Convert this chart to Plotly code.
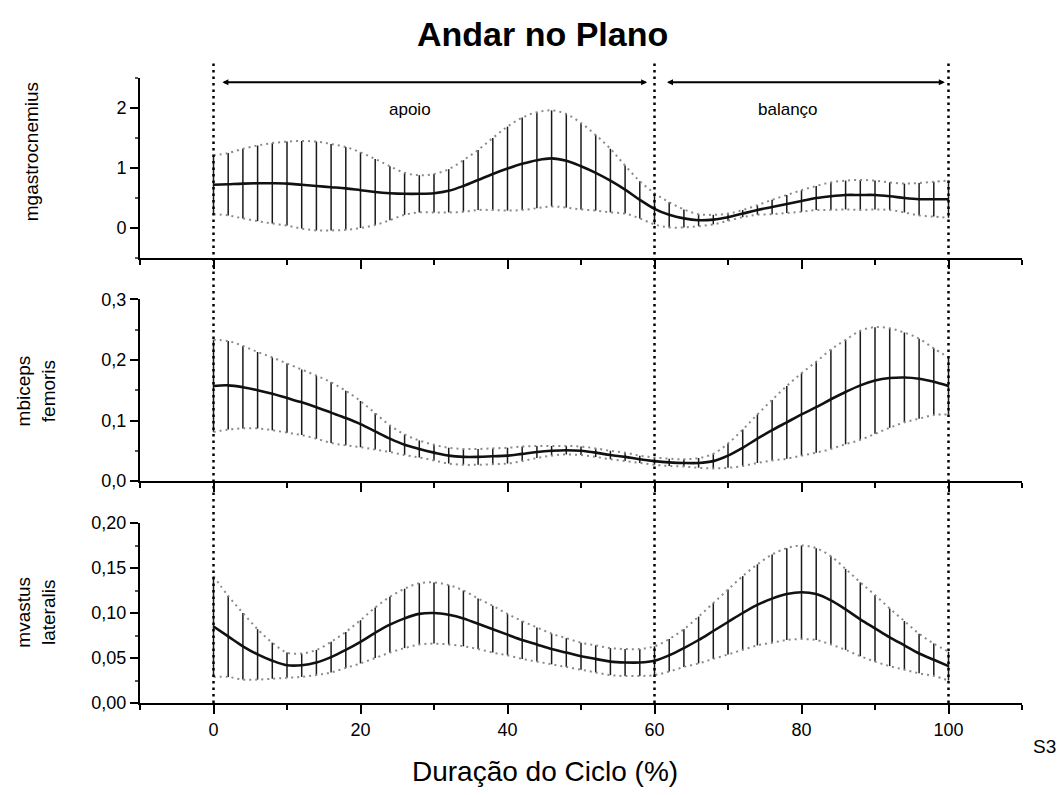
import plotly.graph_objects as go

# Gait cycle (%) sampled every 2 %
cycle = list(range(0, 101, 2))

# mgastrocnemius: mean and standard deviation
gastro_mean = [0.72, 0.73, 0.74, 0.745, 0.745, 0.74, 0.72, 0.70, 0.68, 0.66,
               0.63, 0.60, 0.58, 0.57, 0.57, 0.58, 0.62, 0.70, 0.80, 0.90,
               0.99, 1.07, 1.13, 1.16, 1.12, 1.03, 0.92, 0.79, 0.64, 0.47,
               0.32, 0.22, 0.16, 0.13, 0.14, 0.18, 0.24, 0.30, 0.35, 0.40,
               0.45, 0.50, 0.53, 0.55, 0.55, 0.55, 0.53, 0.50, 0.48, 0.48,
               0.48]
gastro_sd = [0.49, 0.52, 0.58, 0.63, 0.67, 0.70, 0.73, 0.74, 0.72, 0.69,
             0.63, 0.55, 0.45, 0.35, 0.31, 0.32, 0.36, 0.43, 0.50, 0.60,
             0.70, 0.77, 0.80, 0.80, 0.78, 0.72, 0.63, 0.53, 0.40, 0.31,
             0.26, 0.21, 0.15, 0.10, 0.08, 0.06, 0.06, 0.08, 0.12, 0.15,
             0.18, 0.20, 0.23, 0.24, 0.25, 0.24, 0.23, 0.24, 0.27, 0.29,
             0.31]

# mbiceps femoris
biceps_mean = [0.157, 0.158, 0.155, 0.150, 0.144, 0.137, 0.130, 0.122, 0.113, 0.104,
               0.094, 0.082, 0.070, 0.060, 0.053, 0.047, 0.042, 0.040, 0.040, 0.041,
               0.042, 0.045, 0.048, 0.050, 0.051, 0.050, 0.047, 0.043, 0.040, 0.036,
               0.033, 0.031, 0.030, 0.030, 0.033, 0.042, 0.055, 0.070, 0.084, 0.097,
               0.110, 0.122, 0.135, 0.147, 0.158, 0.166, 0.170, 0.171, 0.169, 0.164,
               0.157]
biceps_sd = [0.076, 0.073, 0.068, 0.063, 0.060, 0.057, 0.054, 0.052, 0.050, 0.045,
             0.038, 0.030, 0.022, 0.017, 0.014, 0.013, 0.013, 0.013, 0.013, 0.013,
             0.013, 0.012, 0.010, 0.008, 0.007, 0.007, 0.007, 0.007, 0.007, 0.006,
             0.006, 0.006, 0.006, 0.008, 0.012, 0.020, 0.030, 0.040, 0.050, 0.060,
             0.068, 0.075, 0.082, 0.086, 0.090, 0.088, 0.082, 0.074, 0.066, 0.055,
             0.047]

# mvastus lateralis
vastus_mean = [0.085, 0.074, 0.063, 0.054, 0.047, 0.042, 0.042, 0.045, 0.051, 0.059,
               0.068, 0.078, 0.087, 0.094, 0.099, 0.100, 0.098, 0.094, 0.088, 0.082,
               0.076, 0.070, 0.065, 0.060, 0.056, 0.052, 0.049, 0.046, 0.045, 0.045,
               0.047, 0.053, 0.061, 0.070, 0.080, 0.090, 0.100, 0.109, 0.116, 0.121,
               0.123, 0.121, 0.114, 0.104, 0.093, 0.083, 0.073, 0.064, 0.055, 0.048,
               0.041]
vastus_sd = [0.056, 0.045, 0.037, 0.028, 0.020, 0.014, 0.013, 0.014, 0.017, 0.020,
             0.024, 0.028, 0.031, 0.033, 0.034, 0.034, 0.033, 0.031, 0.028, 0.026,
             0.023, 0.021, 0.019, 0.017, 0.016, 0.015, 0.015, 0.015, 0.015, 0.015,
             0.016, 0.018, 0.021, 0.026, 0.031, 0.036, 0.041, 0.045, 0.049, 0.051,
             0.052, 0.051, 0.049, 0.045, 0.041, 0.037, 0.032, 0.027, 0.022, 0.018,
             0.016]

muscle_labels = ["mgastrocnemius", "mbiceps<br>femoris", "mvastus<br>lateralis"]

x_ticks = [0, 20, 40, 60, 80, 100]
gastro_ticks = [0, 1, 2]
gastro_ticktext = ["0", "1", "2"]
biceps_ticks = [0.0, 0.1, 0.2, 0.3]
biceps_ticktext = ["0,0", "0,1", "0,2", "0,3"]
vastus_ticks = [0.0, 0.05, 0.10, 0.15, 0.20]
vastus_ticktext = ["0,00", "0,05", "0,10", "0,15", "0,20"]

phase_bounds = [0, 60, 100]
phase_names = ["apoio", "balanço"]
phase_label_x = [26.8, 78.2]

NARROW = "Liberation Sans Narrow, Arial Narrow, Liberation Sans, sans-serif"
SANS = "Liberation Sans, Arial, sans-serif"

fig = go.Figure()

panels = [
    (gastro_mean, gastro_sd, "y", [-0.5, 2.5], gastro_ticks, gastro_ticktext, 0.5, [0.712, 1.0]),
    (biceps_mean, biceps_sd, "y2", [0, 0.3], biceps_ticks, biceps_ticktext, 0.05, [0.355, 0.646]),
    (vastus_mean, vastus_sd, "y3", [0, 0.2], vastus_ticks, vastus_ticktext, 0.025, [0.0, 0.288]),
]

for i, (mean, sd, yname, yrange, ytv, ytt, ymin, dom) in enumerate(panels):
    xname = "x" if i == 0 else f"x{i + 1}"
    upper = [m + s for m, s in zip(mean, sd)]
    lower = [m - s for m, s in zip(mean, sd)]
    # error bars
    fig.add_trace(go.Scatter(
        x=cycle, y=mean, mode="markers", marker=dict(size=0.1, color="rgba(0,0,0,0)"),
        error_y=dict(type="data", array=sd, visible=True, width=0, thickness=1.5, color="#1a1a1a"),
        xaxis=xname, yaxis=yname, showlegend=False, hoverinfo="skip"))
    # dotted SD envelope
    for band in (upper, lower):
        fig.add_trace(go.Scatter(
            x=cycle, y=band, mode="lines",
            line=dict(color="#8a8a8a", width=2, dash="2px,4px", shape="spline"),
            xaxis=xname, yaxis=yname, showlegend=False, hoverinfo="skip"))
    # mean curve
    fig.add_trace(go.Scatter(
        x=cycle, y=mean, mode="lines", line=dict(color="#111111", width=2.6, shape="spline"),
        xaxis=xname, yaxis=yname, showlegend=False))

    axis_key = "xaxis" if i == 0 else f"xaxis{i + 1}"
    yaxis_key = "yaxis" if i == 0 else f"yaxis{i + 1}"
    fig.layout[axis_key] = dict(
        domain=[0, 1], anchor=yname, range=[-10, 110],
        showline=True, linecolor="black", linewidth=2, mirror=False,
        showgrid=False, zeroline=False,
        ticks="outside", ticklen=9, tickwidth=2, tickcolor="black",
        tickmode="array", tickvals=x_ticks,
        showticklabels=(i == 2),
        tickfont=dict(family=SANS, size=18, color="black"),
        minor=dict(ticks="outside", ticklen=5, tickwidth=2, tickcolor="black",
                   tickmode="linear", tick0=10, dtick=20),
    )
    fig.layout[yaxis_key] = dict(
        domain=dom, anchor=xname, range=yrange,
        showline=True, linecolor="black", linewidth=2,
        showgrid=False, zeroline=False,
        ticks="outside", ticklen=8, tickwidth=2, tickcolor="black",
        tickmode="array", tickvals=ytv, ticktext=ytt,
        tickfont=dict(family=SANS, size=18, color="black"),
        minor=dict(ticks="outside", ticklen=3, tickwidth=2, tickcolor="#555555",
                   tickmode="linear", tick0=yrange[0], dtick=ymin),
    )

# phase boundaries
for xb in phase_bounds:
    fig.add_shape(type="line", xref="x3", yref="paper", x0=xb, x1=xb, y0=0, y1=1.025,
                  line=dict(color="black", width=2.5, dash="2.5px,4px"))

# phase arrows and labels in the top panel
phase_spans = [(1, 59), (61.5, 99.5)]
for (x0, x1), name, lx in zip(phase_spans, phase_names, phase_label_x):
    fig.add_annotation(x=x1, y=2.43, ax=x0, ay=2.43, xref="x", yref="y", axref="x", ayref="y",
                       showarrow=True, arrowhead=2, arrowside="end+start", arrowsize=0.6,
                       arrowwidth=2, arrowcolor="black", text="")
    fig.add_annotation(x=lx, y=1.97, xref="x", yref="y", text=name, yanchor="middle",
                       showarrow=False, font=dict(family=SANS, size=17, color="black"))

# muscle labels
label_pos = [(-0.123, 0.882), (-0.118, 0.50), (-0.118, 0.146)]
for (lx, ly), lbl in zip(label_pos, muscle_labels):
    fig.add_annotation(x=lx, y=ly, xref="paper", yref="paper", text=lbl, textangle=-90,
                       showarrow=False, xanchor="center", yanchor="middle",
                       font=dict(family=NARROW, size=19, color="black"))

fig.add_annotation(x=0.456, y=1.070, xref="paper", yref="paper", text="<b>Andar no Plano</b>",
                   showarrow=False, xanchor="center", yanchor="middle",
                   font=dict(family=SANS, size=34, color="black"))
fig.add_annotation(x=0.459, y=-0.110, xref="paper", yref="paper", text="Duração do Ciclo (%)",
                   showarrow=False, xanchor="center", yanchor="middle",
                   font=dict(family=SANS, size=28, color="black"))
fig.add_annotation(x=1.026, y=-0.070, xref="paper", yref="paper", text="S3",
                   showarrow=False, xanchor="center", yanchor="middle",
                   font=dict(family=SANS, size=19, color="black"))

fig.update_layout(
    width=1058, height=795,
    margin=dict(l=140, r=36, t=78, b=92),
    paper_bgcolor="white", plot_bgcolor="white",
    showlegend=False,
)

fig.write_html("out.html")
